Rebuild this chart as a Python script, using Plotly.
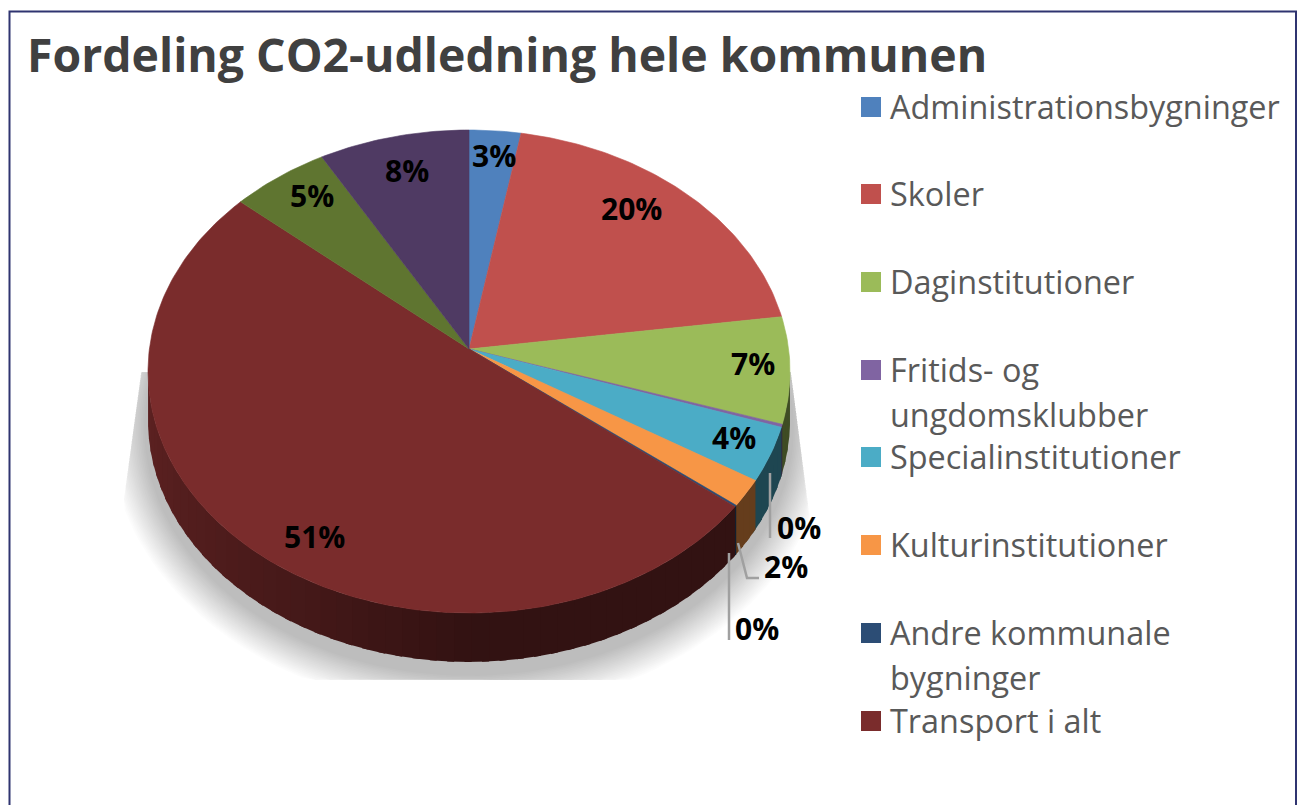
import numpy as np
import plotly.graph_objects as go

title = "Fordeling CO2-udledning hele kommunen"
categories = ["Administrationsbygninger", "Skoler", "Daginstitutioner", "Fritids- og ungdomsklubber",
              "Specialinstitutioner", "Kulturinstitutioner", "Andre kommunale bygninger", "Transport i alt",
              "Olive", "Violet"]
values = [2.85, 19.95, 7.1, 0.2, 3.6, 1.8, 0.1, 50.6, 5.4, 8.3]
colors = ["#4f81bd", "#c0504d", "#9bbb59", "#8064a2", "#4bacc6", "#f79646", "#2c4d75", "#7a2c2c", "#5f7530", "#4f3a63"]
legend_lines = ["Administrationsbygninger", "Skoler", "Daginstitutioner", "Fritids- og<br>ungdomsklubber",
                "Specialinstitutioner", "Kulturinstitutioner", "Andre kommunale<br>bygninger", "Transport i alt"]
legend_y = [107, 194, 282, 370, 457, 545, 633, 721]
label_xy = [(494, 155), (631, 208), (753, 363), None, (734, 437), (786, 566), (757, 628), (314, 536), (312, 195), (407, 170)]
extra_zero = (799, 527)

CX, CY, RX, RY, AY, DEPTH = 469.0, 371.5, 321.0, 241.5, 349.0, 49.0
B = 241.0
fracs = np.cumsum([0] + values) / sum(values)

def rim(phi):
    dx, dy = RX * np.sin(phi), -B * np.cos(phi)
    oy = AY - CY
    A = (dx / RX) ** 2 + (dy / RY) ** 2
    Bq = 2 * oy * dy / RY ** 2
    C = (oy / RY) ** 2 - 1
    s = (-Bq + np.sqrt(Bq ** 2 - 4 * A * C)) / (2 * A)
    return CX + s * dx, AY + s * dy

def shade(hexc, f):
    r, g, b = [int(hexc[i:i + 2], 16) for i in (1, 3, 5)]
    return f"rgb({int(r * f)},{int(g * f)},{int(b * f)})"

fig = go.Figure()

def poly(x, y, fill, width=0, color=None):
    fig.add_trace(go.Scatter(x=x, y=y, mode="lines", fill="toself", fillcolor=fill,
                             line=dict(width=width, color=color or fill), hoverinfo="skip", showlegend=False))

# soft shadow under the pie
n = 22
for k in range(n):
    u = k / (n - 1)
    rx, ry = 360 - 35 * u, 282 - 34 * u
    t = np.linspace(0, 2 * np.pi, 160)
    sx, sy = CX + rx * np.cos(t), 428 + ry * np.sin(t)
    sy = np.clip(sy, 372, 680)
    sx = np.clip(sx, 140 - (sy - 380) * 0.136, 792 + (sy - 380) * 0.13)
    poly(sx, sy, "rgba(0,0,0,0.0115)")

# side wall, overlapping strips per slice
for i, col in enumerate(colors):
    a, b = 2 * np.pi * fracs[i], 2 * np.pi * fracs[i + 1]
    edges = np.linspace(a, b, max(2, int((b - a) / 0.05) + 2))
    for p, q in zip(edges[:-1], edges[1:]):
        ph = np.linspace(p, min(q + 0.02, 2 * np.pi), 5)
        x, y = rim(ph)
        if np.mean(y) < CY:
            continue
        th = np.arctan2(np.mean(x) - CX, -(np.mean(y) - CY)) % (2 * np.pi)
        f = 0.41 + 0.36 * max(0.0, (th - np.pi) / (np.pi / 2))
        poly(np.r_[x, x[::-1]], np.r_[y, y[::-1] + DEPTH], shade(col, f))

# top surface
for i, col in enumerate(colors):
    ph = np.linspace(2 * np.pi * fracs[i], 2 * np.pi * fracs[i + 1], max(3, int(values[i] * 4)))
    x, y = rim(ph)
    poly(np.r_[CX, x, CX], np.r_[AY, y, AY], col, 0.6, col)

# legend keys
fig.add_trace(go.Scatter(x=[871] * len(legend_y), y=legend_y, mode="markers",
                         marker=dict(symbol="square", size=20, color=colors[:8]),
                         hoverinfo="skip", showlegend=False))

FONT = "Open Sans"
ann = [dict(x=25, y=54, text=f"<b>{title}</b>", xanchor="left", yanchor="middle", showarrow=False,
            font=dict(family=FONT, size=46.4, color="#404040"))]
LEG = dict(family=FONT, size=32.4, color="#595959")
for yy, txt in zip(legend_y, legend_lines):
    parts = txt.split("<br>")
    for j, part in enumerate(parts):
        ann.append(dict(x=888, y=yy - 1 + 45 * j, text=part, xanchor="left", yanchor="middle",
                        showarrow=False, font=LEG))
for v, xy in zip(values, label_xy):
    pos = xy if xy is not None else extra_zero
    ann.append(dict(x=pos[0], y=pos[1], text=f"<b>{round(v)}%</b>", xanchor="center", yanchor="middle",
                    showarrow=False, font=dict(family=FONT, size=30, color="#000000")))

lead = dict(color="#a0a0a0", width=2.5)
shapes = [
    dict(type="path", path="M 9.5 806 L 9.5 11.5 L 1296 11.5 L 1296 806", line=dict(color="#2f3470", width=2)),
    dict(type="path", path="M 770 473 L 770 538", line=lead),
    dict(type="path", path="M 738 543 L 747 578 L 759 578", line=lead),
    dict(type="path", path="M 729 553 L 729 640", line=lead),
]
fig.update_layout(width=1298, height=805, margin=dict(l=0, r=0, t=0, b=0), paper_bgcolor="white",
                  plot_bgcolor="white", showlegend=False, annotations=ann, shapes=shapes,
                  xaxis=dict(range=[0, 1298], visible=False, fixedrange=True),
                  yaxis=dict(range=[805, 0], visible=False, fixedrange=True))
fig.write_html("out.html", config=dict(displayModeBar=False),
               post_script="document.body.style.margin='0';document.body.style.overflow='hidden';")
